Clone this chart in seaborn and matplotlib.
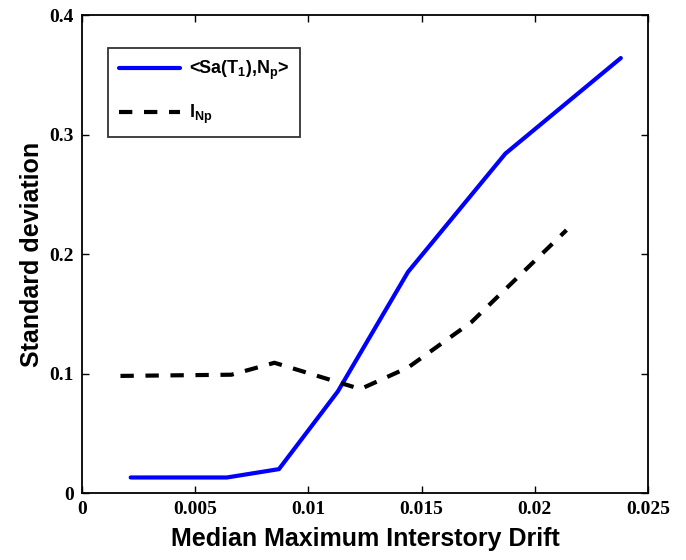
import matplotlib
matplotlib.use("Agg")
import matplotlib.pyplot as plt
import pandas as pd
import seaborn as sns

# Median maximum interstory drift at each intensity level
drift_sa = [0.00215, 0.0064, 0.0087, 0.0113, 0.0144, 0.0187, 0.0238]
std_sa = [0.013, 0.013, 0.020, 0.085, 0.185, 0.284, 0.364]

drift_inp = [0.0017, 0.0066, 0.0085, 0.0123, 0.0144, 0.0172, 0.0214]
std_inp = [0.098, 0.099, 0.109, 0.087, 0.105, 0.143, 0.220]

label_sa = r"<Sa(T$_1$),N$_p$>"
label_inp = r"I$_{Np}$"

x_ticks = [0, 0.005, 0.01, 0.015, 0.02, 0.025]
x_tick_labels = ["0", "0.005", "0.01", "0.015", "0.02", "0.025"]
y_ticks = [0, 0.1, 0.2, 0.3, 0.4]
y_tick_labels = ["0", "0.1", "0.2", "0.3", "0.4"]

df = pd.concat([
    pd.DataFrame({"drift": drift_sa, "std": std_sa, "measure": label_sa}),
    pd.DataFrame({"drift": drift_inp, "std": std_inp, "measure": label_inp}),
])

sns.set_style("white")
plt.rcParams["mathtext.default"] = "regular"
plt.rcParams["text.color"] = "black"

fig = plt.figure(figsize=(6.86, 5.6), dpi=100)
ax = fig.add_axes([0.1195, 0.1196, 0.8251, 0.8536])

sns.lineplot(
    data=df, x="drift", y="std", hue="measure", style="measure",
    palette={label_sa: "#0000ff", label_inp: "black"},
    dashes={label_sa: "", label_inp: (3.2, 2.8)},
    linewidth=3, sort=False, ax=ax, legend=True,
)

ax.set_xlim(0, 0.025)
ax.set_ylim(0, 0.4)
ax.set_xticks(x_ticks)
ax.set_xticklabels(x_tick_labels)
ax.set_yticks(y_ticks)
ax.set_yticklabels(y_tick_labels)

for lbl in ax.get_xticklabels() + ax.get_yticklabels():
    lbl.set_fontfamily("Liberation Serif")
    lbl.set_fontweight("bold")
    lbl.set_fontsize(14)
    lbl.set_color("black")

ax.tick_params(axis="both", which="both", direction="in", length=5, width=1,
               top=True, right=True, bottom=True, left=True, colors="black", pad=6)
for s in ax.spines.values():
    s.set_visible(True)
    s.set_color("black")
    s.set_linewidth(1.3)

ax.set_xlabel("Median Maximum Interstory Drift", fontfamily="Liberation Sans",
              fontweight="bold", fontsize=18, labelpad=6, color="black")
ax.set_ylabel("Standard deviation", fontfamily="Liberation Sans",
              fontweight="bold", fontsize=18, labelpad=4, color="black")

leg = ax.legend(
    loc="upper left", bbox_to_anchor=(0.046, 0.931), borderaxespad=0,
    frameon=True, fancybox=False,
    prop=dict(family="Liberation Sans", weight="bold", size=13),
    handlelength=3.4, handletextpad=0.5, borderpad=0.6, labelspacing=1.15,
    title=None,
)
leg.get_frame().set_edgecolor("black")
leg.get_frame().set_linewidth(1.3)
for t in leg.get_texts():
    t.set_color("black")
for h in leg.get_lines():
    h.set_linewidth(3)

fig.savefig("out.png", dpi=100, facecolor="white")
